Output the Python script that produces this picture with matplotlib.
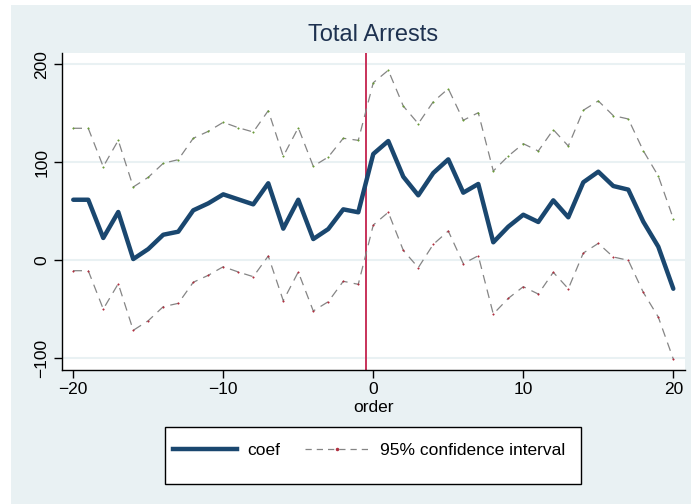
import matplotlib
matplotlib.use("Agg")
import matplotlib.pyplot as plt
from matplotlib.patches import Rectangle
from matplotlib.lines import Line2D
from matplotlib.legend_handler import HandlerLine2D

order = list(range(-20, 21))
coef = [61.8, 61.8, 22.8, 49.3, 1.3, 11.5, 26.1, 29.2, 51.0, 58.1, 67.3,
        62.2, 57.1, 78.6, 32.3, 61.8, 21.7, 31.9, 52.0, 49.0, 108.5,
        121.7, 85.3, 66.3, 89.1, 103.0, 69.0, 77.9, 18.4, 34.3, 46.5,
        39.1, 61.2, 43.9, 79.6, 90.4, 75.8, 72.1, 39.4, 13.9, -29.0]
ci_upper = [134.7, 134.7, 95.5, 122.4, 74.8, 84.7, 99.0, 102.7, 124.5, 131.6, 140.8,
            135.3, 130.9, 152.7, 106.1, 135.3, 95.9, 105.4, 124.5, 122.4, 181.2,
            193.9, 157.4, 139.4, 161.8, 175.1, 142.9, 150.6, 91.1, 106.4, 119.0,
            111.5, 133.3, 116.6, 153.1, 162.6, 147.6, 144.2, 111.8, 86.0, 42.5]
ci_lower = [-10.6, -10.6, -49.7, -23.9, -71.4, -61.6, -47.3, -43.9, -22.4, -15.3, -6.5,
            -11.9, -16.7, 4.4, -41.2, -11.9, -51.7, -42.2, -21.4, -24.5, 36.0,
            49.0, 10.2, -7.5, 16.3, 29.9, -3.4, 4.7, -54.8, -38.8, -26.9,
            -34.4, -12.2, -29.0, 7.4, 17.3, 3.4, 0.0, -32.7, -57.9, -100.7]
event_line = -0.5
xticks = [-20, -10, 0, 10, 20]
yticks = [-100, 0, 100, 200]
title = "Total Arrests"
xlabel = "order"
labels = ["coef", "95% confidence interval"]

BG = "#E9F1F3"
NAVY = "#1A476F"
GRAY = "#858585"
plt.rcParams['font.family'] = ['Liberation Sans', 'DejaVu Sans']

W, H = 691, 504
fig = plt.figure(figsize=(6.91, 5.04), dpi=100, facecolor="white")
fig.patches.append(Rectangle((11 / W, 0), 1 - 11 / W, 1 - 5 / H,
                             transform=fig.transFigure, facecolor=BG,
                             edgecolor="none", zorder=-10))
L, R, T, B = 62, 685, 53, 370
ax = fig.add_axes([L / W, 1 - B / H, (R - L) / W, (B - T) / H])
ax.set_zorder(1)
ax.set_facecolor("white")
ax.set_xlim(-20.75, 20.78)
ax.set_ylim(-111.9, 211.5)

for y in yticks:
    ax.axhline(y, color=BG, lw=1.5, zorder=0)

ax.axvline(event_line, color="#C8325A", lw=1.4, zorder=1)

ax.plot(order, ci_upper, color=GRAY, lw=0.9, dashes=(7, 5), zorder=2,
        marker="o", ms=1.1, mfc="#6A9A3A", mec="#6A9A3A", mew=0.3)
ax.plot(order, ci_lower, color=GRAY, lw=0.9, dashes=(7, 5), zorder=2,
        marker="o", ms=1.1, mfc="#B03040", mec="#B03040", mew=0.3)
ax.plot(order, coef, color=NAVY, lw=3.2, zorder=3, solid_joinstyle="round",
        solid_capstyle="round")

for s in ["top", "right"]:
    ax.spines[s].set_visible(False)
for s in ["left", "bottom"]:
    ax.spines[s].set_color("black")
    ax.spines[s].set_linewidth(1.0)

ax.set_xticks(xticks)
ax.set_xticklabels([str(v).replace("-", "\u2212") for v in xticks])
ax.set_yticks(yticks)
ax.set_yticklabels([str(v).replace("-", "\u2212") for v in yticks],
                   rotation=90, va="center")
ax.tick_params(axis="both", direction="out", length=6, width=1, labelsize=12.5,
               colors="black", pad=3)
ax.set_xlabel(xlabel, fontsize=12.5, labelpad=2)
fig.text(373 / W, 1 - 35 / H, title, ha="center", va="center",
         fontsize=17, color="#1E3250")

# legend box
fig.patches.append(Rectangle((165 / W, 1 - 484 / H), (581 - 165) / W, (484 - 427) / H,
                             transform=fig.transFigure, facecolor="white",
                             edgecolor="black", lw=1.0, zorder=1))
handles = [
    Line2D([], [], color=NAVY, lw=3.2),
    Line2D([], [], color=GRAY, lw=0.9, dashes=(5, 4), marker="o", ms=1.5,
           mfc="#B03040", mec="#B03040"),
]
leg = fig.legend(handles, labels, loc="center", bbox_to_anchor=(369 / W, 1 - 450 / H),
                 ncol=2, frameon=False, fontsize=12.5, handlelength=3.7,
                 columnspacing=1.4, handletextpad=0.6,
                 handler_map={h: HandlerLine2D(numpoints=1) for h in handles})
leg.set_zorder(2)

fig.savefig("out.png", dpi=100, facecolor="white")
